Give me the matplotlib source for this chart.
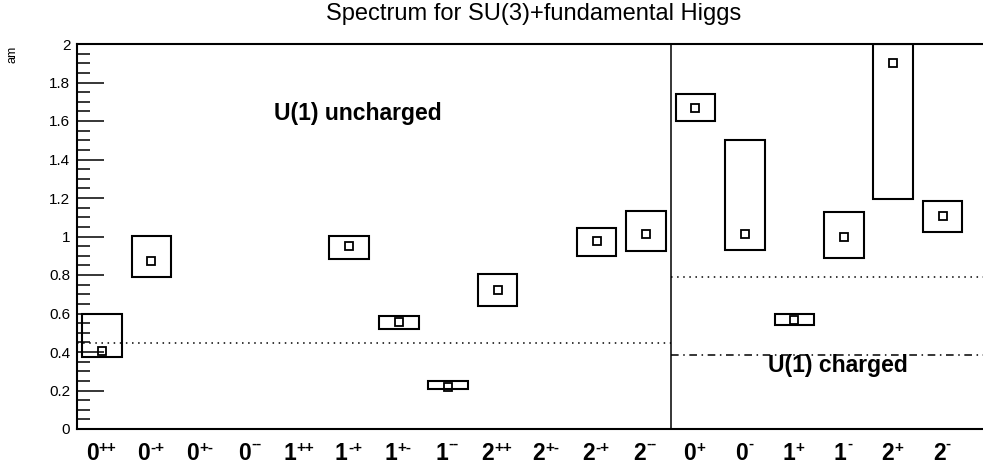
import numpy as np
import matplotlib
matplotlib.use("Agg")
import matplotlib.pyplot as plt
from matplotlib.patches import Rectangle
from matplotlib.ticker import MultipleLocator

plt.rcParams['font.family'] = ['Liberation Sans', 'DejaVu Sans']

# ---- data ----
state_digits = ['0', '0', '0', '0', '1', '1', '1', '1', '2', '2', '2', '2',
                '0', '0', '1', '1', '2', '2']
state_sups = ['++', '-+', '+-', '--', '++', '-+', '+-', '--', '++', '+-', '-+', '--',
              '+', '-', '+', '-', '+', '-']
mass = [0.405, 0.875, np.nan, np.nan, np.nan, 0.95, 0.555, 0.22, 0.72, np.nan, 0.975, 1.015,
        1.67, 1.015, 0.565, 1.0, 1.90, 1.105]
band_lo = [0.375, 0.79, np.nan, np.nan, np.nan, 0.885, 0.52, 0.21, 0.64, np.nan, 0.90, 0.925,
           1.60, 0.93, 0.54, 0.89, 1.195, 1.025]
band_hi = [0.60, 1.0, np.nan, np.nan, np.nan, 1.005, 0.585, 0.25, 0.805, np.nan, 1.045, 1.135,
           1.74, 1.50, 0.60, 1.125, 2.0, 1.185]
uncharged_threshold = 0.445
charged_threshold_dotted = 0.79
charged_threshold_dashdot = 0.385
n_uncharged = 12

W, H = 983, 472
PX = 72 / 100.0  # points per pixel
fig = plt.figure(figsize=(W / 100, H / 100), dpi=100)
ax_left = 77.3 / W
ax_bottom = (H - 429) / H
ax_height = (429 - 44) / H
ax_width = (983 - 77.3) / W
ax = fig.add_axes([ax_left, ax_bottom, ax_width, ax_height])

xs = np.arange(len(mass))
half_w = 0.4
for x, m, lo, hi in zip(xs, mass, band_lo, band_hi):
    if np.isnan(m):
        continue
    ax.add_patch(Rectangle((x - half_w, lo), 2 * half_w, hi - lo, fill=False,
                           edgecolor='black', lw=1.5, zorder=3))
ax.plot(xs, mass, linestyle='none', marker='s', ms=6.2, mfc='none', mec='black',
        mew=1.3, zorder=4)

xmax = -0.5 + (983 - 77.3) / 49.45
ax.set_xlim(-0.5, xmax)
ax.set_ylim(0, 2)

# divider and thresholds
ax.plot([n_uncharged - 0.5, n_uncharged - 0.5], [0, 2], color='black', lw=1.1, zorder=2)
ax.plot([-0.5, n_uncharged - 0.5], [uncharged_threshold] * 2, color='black', lw=1.1,
        linestyle=(0, (1, 3)), zorder=2)
ax.plot([n_uncharged - 0.5, xmax], [charged_threshold_dotted] * 2, color='black', lw=1.1,
        linestyle=(0, (1, 3)), zorder=2)
ax.plot([n_uncharged - 0.5, xmax], [charged_threshold_dashdot] * 2, color='black', lw=1.1,
        linestyle=(0, (5, 3, 1, 3)), zorder=2)

# axes styling
for s in ['left', 'top', 'bottom']:
    ax.spines[s].set_linewidth(1.5)
ax.spines['right'].set_visible(False)
ax.yaxis.set_major_locator(MultipleLocator(0.2))
ax.yaxis.set_minor_locator(MultipleLocator(0.05))
ax.tick_params(axis='y', which='major', direction='in', length=19.4, width=1.1,
               labelsize=11, pad=5)
ax.tick_params(axis='y', which='minor', direction='in', length=9.4, width=1.1)
ax.set_yticks(np.round(np.arange(0, 2.01, 0.2), 1))
ax.set_yticklabels(['0', '0.2', '0.4', '0.6', '0.8', '1', '1.2', '1.4', '1.6', '1.8', '2'])

ax.set_xticks(xs)
ax.set_xticklabels([])
ax.tick_params(axis='x', length=0)

# category labels: bold digit + superscript string
trans = ax.get_xaxis_transform()
digit_size = 16.5
sup_size = 11
digit_w = 0.556 * digit_size  # points (advance width)
adv = {'+': 0.584, '-': 0.333}
for i, (d, s) in enumerate(zip(state_digits, state_sups)):
    sup_w = sum(adv[c] for c in s) * sup_size
    total = digit_w + sup_w
    x0 = -total / 2 - 1.0 * PX
    ax.annotate(d, xy=(i, 0), xycoords=trans, xytext=(x0, -31 * PX),
                textcoords='offset points', ha='left', va='baseline',
                fontsize=digit_size, fontweight='bold', annotation_clip=False)
    yb = -19 * PX if set(s) == {'-'} else -23 * PX
    ax.annotate(s, xy=(i, 0), xycoords=trans, xytext=(x0 + digit_w + 0.2, yb),
                textcoords='offset points', ha='left', va='baseline',
                fontsize=sup_size, fontweight='bold', annotation_clip=False)

# texts
ax.text(5.18, 1.64, 'U(1) uncharged', fontsize=16.5, fontweight='bold',
        ha='center', va='center')
ax.text(14.89, 0.33, 'U(1) charged', fontsize=16.5, fontweight='bold',
        ha='center', va='center')
fig.text(534 / W, 1 - 14 / H, 'Spectrum for SU(3)+fundamental Higgs', fontsize=17,
         ha='center', va='center')
fig.text(13 / W, 1 - 54 / H, 'am', fontsize=9, rotation=90, ha='center', va='center')

fig.savefig('out.png', dpi=100)
